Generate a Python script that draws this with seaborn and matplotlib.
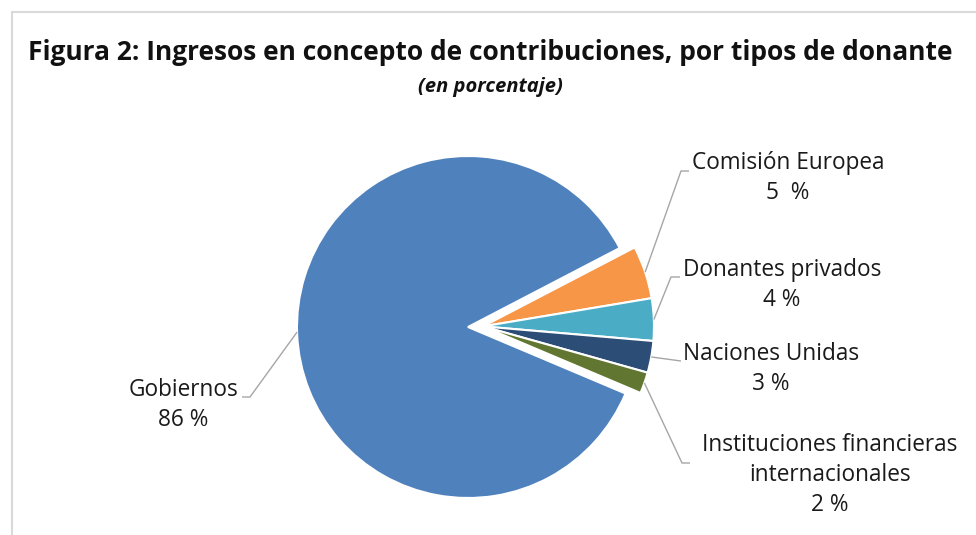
import numpy as np
import matplotlib
matplotlib.use("Agg")
import matplotlib.pyplot as plt
from matplotlib.lines import Line2D
import seaborn as sns

# ---- data ----
categories = ["Gobiernos", "Comisión Europea", "Donantes privados",
              "Naciones Unidas", "Instituciones financieras\ninternacionales"]
values = [86, 5, 4, 3, 2]
value_labels = ["86 %", "5  %", "4 %", "3 %", "2 %"]
colors = ["#4F81BD", "#F79646", "#4BACC6", "#2C4D75", "#617630"]

sns.set_theme(style="white")
plt.rcParams["font.family"] = ["Open Sans", "DejaVu Sans"]

W, H = 976, 535
fig = plt.figure(figsize=(W / 100, H / 100), dpi=100)
ax = fig.add_axes([0, 0, 1, 1])

cx, cy, R = 468, H - 327, 171
wedges, _ = ax.pie(values, colors=colors, startangle=27.5 + 309.6,
                   counterclock=False, radius=R, center=(cx, cy),
                   wedgeprops=dict(edgecolor="white", linewidth=1.5))
ax.set_xlim(0, W)
ax.set_ylim(0, H)
ax.set_aspect("equal")
ax.axis("off")

# pull the small slices out together along their common bisector
small = wedges[1:]
bis = np.deg2rad((small[0].theta2 + small[-1].theta1) / 2)
shift = 15
for w in small:
    w.set_center((cx + shift * np.cos(bis), cy + shift * np.sin(bis)))

# border
bc = "#D9D9D9"
fig.add_artist(Line2D([12 / W, 1.0], [1 - 12 / H, 1 - 12 / H],
                      transform=fig.transFigure, color=bc, lw=1.5))
fig.add_artist(Line2D([12 / W, 12 / W], [0, 1 - 12 / H],
                      transform=fig.transFigure, color=bc, lw=1.5))

# titles
fig.text(490 / W, 1 - 53 / H,
         "Figura 2: Ingresos en concepto de contribuciones, por tipos de donante",
         ha="center", va="center", fontsize=19.0, fontweight="bold",
         color="#111111")
fig.text(490 / W, 1 - 87 / H, "(en porcentaje)", ha="center", va="center",
         fontsize=14.5, fontweight="bold", style="italic", color="#111111")

# labels with leader lines
lc = "#A6A6A6"
txtc = "#1A1A1A"
fs = 16.3
# (label center x, label top-line y, elbow x, elbow y, end x) in pixels
label_layout = [
    (183, 390, 250, 397, 242),
    (788, 163, 681, 171, 689),
    (782, 270, 671, 277, 680),
    (771, 354, 681, 361, 681),
    (830, 445, 682, 463, 690),
]
for i, w in enumerate(wedges):
    lx, ly, ex, ey, tx = label_layout[i]
    if i == 0:
        ang = np.deg2rad(181.7)
    else:
        ang = np.deg2rad((w.theta1 + w.theta2) / 2)
    ox, oy = w.center
    sx = ox + w.r * np.cos(ang)
    sy = oy + w.r * np.sin(ang)
    ax.plot([sx, ex, tx], [sy, H - ey, H - ey], color=lc, lw=1.0,
            solid_capstyle="butt")
    lines = categories[i].split("\n") + [value_labels[i]]
    for k, t in enumerate(lines):
        ax.text(lx, H - (ly + 30 * k), t, ha="center", va="center",
                fontsize=fs, color=txtc)

fig.savefig("out.png", dpi=100)
